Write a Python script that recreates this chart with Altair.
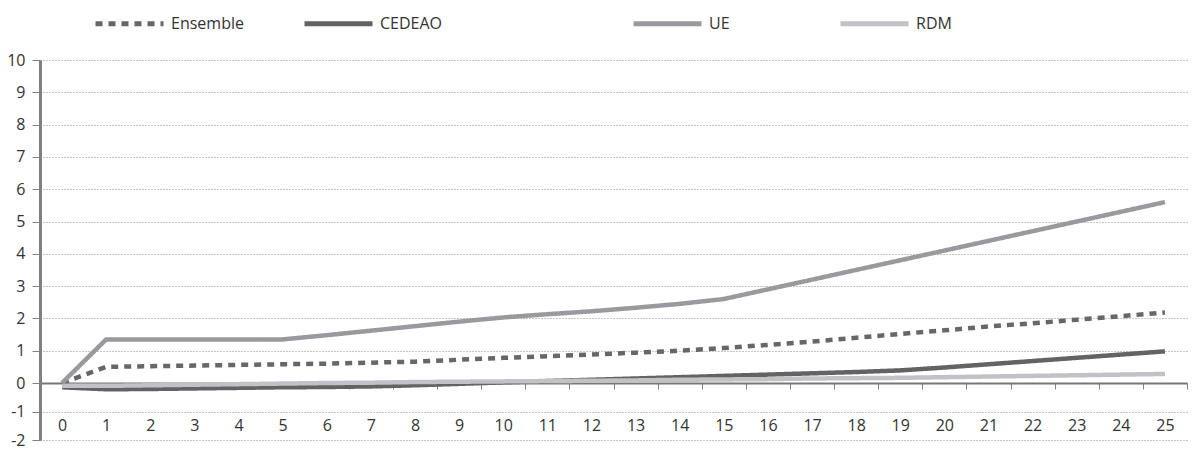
import altair as alt
import pandas as pd

years = list(range(26))
ensemble = [0.0, 0.5, 0.52, 0.54, 0.56, 0.58, 0.6, 0.63, 0.66, 0.72, 0.78, 0.83, 0.88,
            0.94, 1.0, 1.08, 1.18, 1.28, 1.4, 1.52, 1.63, 1.75, 1.85, 1.96, 2.07, 2.18]
cedeao = [-0.15, -0.22, -0.21, -0.19, -0.17, -0.15, -0.14, -0.12, -0.08, -0.03, 0.02, 0.06, 0.1,
          0.14, 0.18, 0.22, 0.26, 0.3, 0.34, 0.39, 0.48, 0.58, 0.68, 0.78, 0.88, 0.98]
ue = [0.0, 1.35, 1.35, 1.35, 1.35, 1.35, 1.48, 1.62, 1.76, 1.9, 2.03, 2.13, 2.22,
      2.33, 2.45, 2.6, 2.9, 3.2, 3.5, 3.8, 4.1, 4.4, 4.7, 5.0, 5.3, 5.6]
rdm = [-0.1, -0.1, -0.08, -0.06, -0.04, -0.02, 0.0, 0.01, 0.03, 0.04, 0.05, 0.06, 0.07,
       0.08, 0.1, 0.11, 0.12, 0.14, 0.15, 0.16, 0.18, 0.2, 0.22, 0.24, 0.26, 0.28]

series_names = ["Ensemble", "CEDEAO", "UE", "RDM"]
series_colors = {"Ensemble": "#676767", "CEDEAO": "#636363", "UE": "#9a9a9e", "RDM": "#c2c2c6"}
series_dashes = {"Ensemble": [7, 6], "CEDEAO": [1, 0], "UE": [1, 0], "RDM": [1, 0]}
series_values = {"Ensemble": ensemble, "CEDEAO": cedeao, "UE": ue, "RDM": rdm}
y_ticks = list(range(-2, 11))

W = 1147
H = 380
Y_ZERO_PX = 323   # pixel of value 0 inside the plot (the source chart's lower band is tighter)
FONT = "Open Sans"
TXT = "#333333"
x_ticks = [y - 0.5 for y in years] + [years[-1] + 0.5]
band_px = W / len(years)

x_enc = alt.X("annee:Q",
              scale=alt.Scale(domain=[x_ticks[0], x_ticks[-1]], nice=False, zero=False),
              axis=alt.Axis(values=x_ticks, orient="bottom", offset=-(H - Y_ZERO_PX),
                            domainColor="#777777", domainWidth=2,
                            tickColor="#808080", tickSize=6, tickWidth=1,
                            labelExpr=f"datum.value < {years[-1]} ? format(datum.value + 0.5, 'd') : ''",
                            labelOffset=band_px / 2, labelPadding=28, labelFlush=False,
                            labelOverlap=False, labelFontSize=16, labelColor=TXT,
                            labelFont=FONT, grid=False, title=None))
y_enc = alt.Y("valeur:Q",
              scale=alt.Scale(domain=[y_ticks[0], 0, y_ticks[-1]], range=[H, Y_ZERO_PX, 0],
                              nice=False, zero=False),
              axis=alt.Axis(values=y_ticks, grid=True, gridDash=[1, 2], gridColor="#8a8a8a",
                            gridWidth=1, domainColor="#808080", domainWidth=3,
                            tickColor="#808080", tickSize=8, tickWidth=1,
                            labelExpr="'' + datum.value",
                            labelFontSize=16, labelPadding=7, labelColor=TXT,
                            labelFont=FONT, title=None))


def group_layer(names, legend_x, gap):
    rows = []
    for name in reversed(names):
        for yr, v in zip(years, series_values[name]):
            rows.append({"annee": yr, "valeur": v, "serie": name})
    df = pd.DataFrame(rows)
    return alt.Chart(df).mark_line(strokeWidth=4.5, strokeCap="butt", strokeJoin="miter").encode(
        x=x_enc,
        y=y_enc,
        color=alt.Color("serie:N",
                        scale=alt.Scale(domain=names, range=[series_colors[n] for n in names]),
                        legend=alt.Legend(orient="none", legendX=legend_x, legendY=-73,
                                          direction="horizontal", title=None,
                                          symbolType="stroke", symbolSize=68 * 68,
                                          symbolStrokeWidth=5, columnPadding=gap,
                                          labelOffset=5, labelFontSize=16,
                                          labelColor=TXT, labelFont=FONT)),
        strokeDash=alt.StrokeDash("serie:N",
                                  scale=alt.Scale(domain=names, range=[series_dashes[n] for n in names]),
                                  legend=None),
        detail="serie:N",
    )


left = group_layer(["Ensemble", "CEDEAO"], 53, 50)
right = group_layer(["UE", "RDM"], 591, 100)

chart = alt.layer(left, right).resolve_scale(
    color="independent", strokeDash="independent"
).resolve_legend(color="independent").properties(
    width=W, height=H,
    padding={"left": 32, "top": 52, "right": 2, "bottom": 12},
    autosize=alt.AutoSizeParams(type="none"),
).configure_view(stroke=None)

chart.save("out.html", embed_options={"renderer": "svg", "actions": False})
